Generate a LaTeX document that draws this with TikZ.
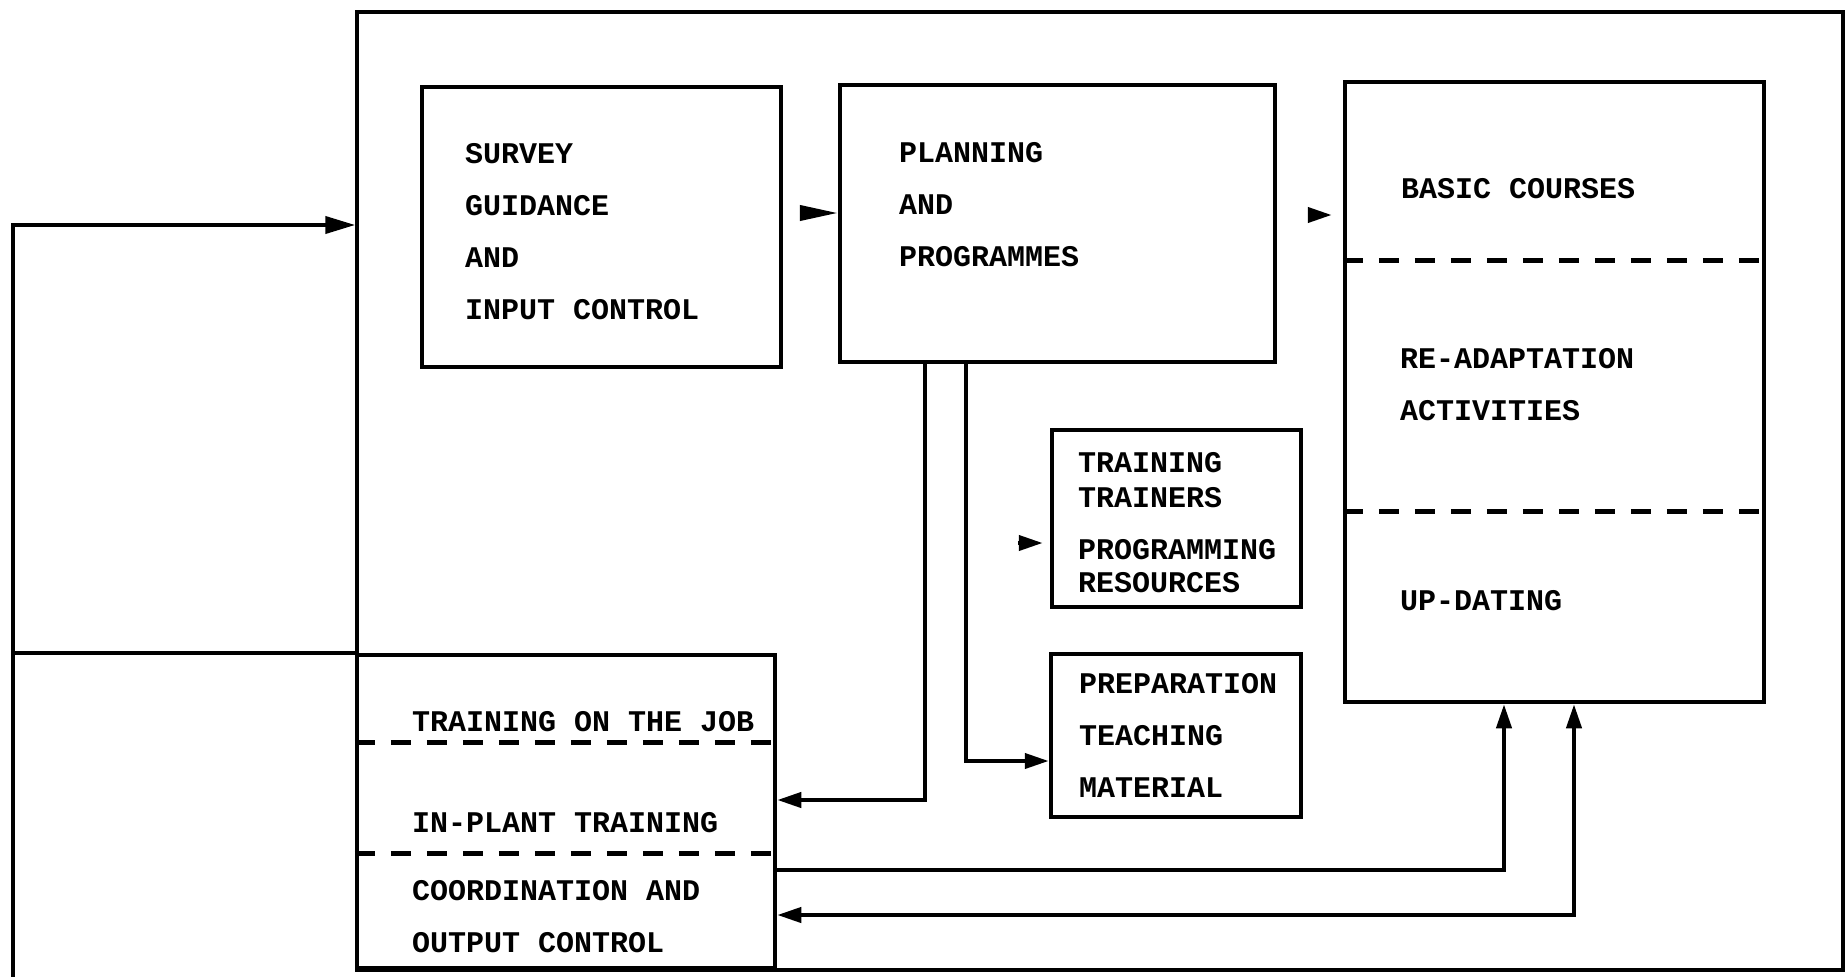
\documentclass[tikz,border=0pt]{standalone}
\usepackage{fontspec}
\setmonofont{Liberation Mono}
\usetikzlibrary{arrows.meta,positioning,calc}

\begin{document}
\begin{tikzpicture}[
    x=1pt, y=-1pt,
    frame/.style={draw, rectangle, line width=3.5pt, inner sep=0pt},
    box/.style={draw, rectangle, line width=4.5pt, inner sep=0pt},
    lbl/.style={anchor=base west, align=left, inner sep=0pt, font=\ttfamily\bfseries\fontsize{30}{52}\selectfont},
    link/.style={line width=4pt, >={Triangle[length=24pt,width=15pt]}},
    divider/.style={line width=5pt, dash pattern=on 20pt off 16pt}
]
    \useasboundingbox (0,0) rectangle (1848,977);

    % Boxes
    \node[frame, minimum width=1486pt, minimum height=958pt] (system) at (1100,491) {};
    \node[box, minimum width=359pt, minimum height=280pt] (survey) at (601.5,227) {};
    \node[box, minimum width=435pt, minimum height=277pt] (plan) at (1057.5,223.5) {};
    \node[box, minimum width=419pt, minimum height=620pt] (courses) at (1554.5,392) {};
    \node[box, minimum width=249pt, minimum height=177pt] (trainers) at (1176.5,518.5) {};
    \node[box, minimum width=250pt, minimum height=163pt] (material) at (1176,735.5) {};
    \node[box, minimum width=418pt, minimum height=313pt] (job) at (566,811.5) {};

    % Texts (anchored at the baseline of the last line)
    \node[lbl] (survey-txt) at (465,319) {SURVEY\\GUIDANCE\\AND\\INPUT CONTROL};
    \node[lbl] (plan-txt) at (899,266) {PLANNING\\AND\\PROGRAMMES};
    \node[lbl] (basic-txt) at (1401,198) {BASIC COURSES};
    \node[lbl] (readapt-txt) at (1400,420) {RE-ADAPTATION\\ACTIVITIES};
    \node[lbl] (update-txt) at (1400,610) {UP-DATING};
    \node[lbl] (trainers-txt) at (1078,592) {TRAINING\\[-17pt]TRAINERS\\PROGRAMMING\\[-19pt]RESOURCES};
    \node[lbl] (material-txt) at (1079,797) {PREPARATION\\TEACHING\\MATERIAL};
    \node[lbl] (ojt-txt) at (412,731) {TRAINING ON THE JOB};
    \node[lbl] (inplant-txt) at (412,832) {IN-PLANT TRAINING};
    \node[lbl] (coord-txt) at (412,952) {COORDINATION AND\\OUTPUT CONTROL};

    % Dividers
    \draw[divider] (courses.west |- 0,260) -- (courses.east |- 0,260);
    \draw[divider] (courses.west |- 0,511) -- (courses.east |- 0,511);
    \draw[divider] (job.west |- 0,742) -- (job.east |- 0,742);
    \draw[divider] (job.west |- 0,853) -- (job.east |- 0,853);

    % Flow
    \draw[link, ->, >={Triangle[length=38pt,width=15pt]}, shorten <=19pt] (survey.east |- 0,213) -- (plan.west |- 0,213);
    \draw[link, ->, shorten <=34pt, shorten >=11pt] (plan.east |- 0,215) -- (courses.west |- 0,215);
    \coordinate (drop1) at ([xshift=87pt]plan.south west);
    \coordinate (drop2) at ([xshift=128pt]plan.south west);
    \draw[link, ->] (drop1) |- (job.east |- 0,800);
    \draw[link, ->] (drop2) |- (material.west |- 0,761);
    \draw[link, ->, shorten <=52pt, shorten >=7pt] (drop2 |- 0,543) -- (trainers.west |- 0,543);
    \draw[link, ->] (job.east |- 0,870) -| (courses.south -| 1504,0);
    \draw[link, <->] (courses.south -| 1574,0) |- (job.east |- 0,915);

    % Feedback
    \coordinate (loop) at (13,977);
    \draw[link] (job.north west) -- (job.north west -| loop);
    \draw[link, ->, >={Triangle[length=30pt,width=17pt]}] (loop) |- (system.west |- 0,225);
\end{tikzpicture}
\end{document}
